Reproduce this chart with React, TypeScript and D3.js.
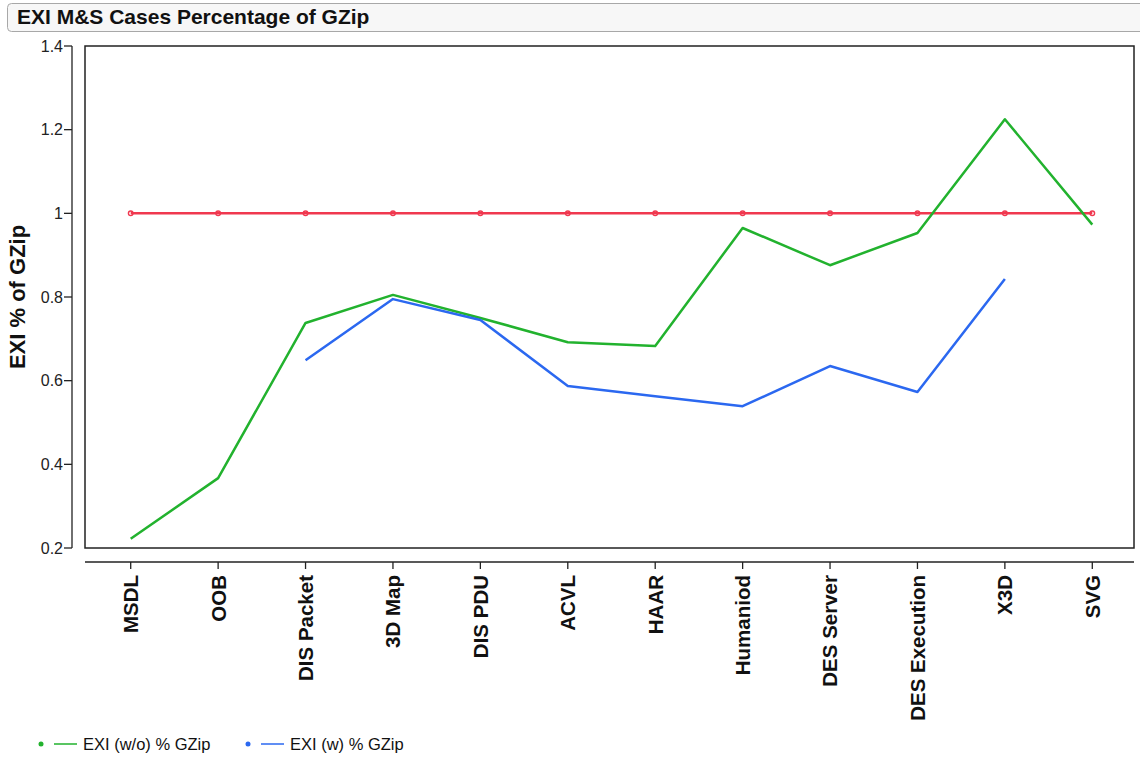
import React from "react";
import * as d3 from "d3";

const categories = ["MSDL", "OOB", "DIS Packet", "3D Map", "DIS PDU", "ACVL", "HAAR", "Humaniod", "DES Server", "DES Execution", "X3D", "SVG"];
const gzipBaseline = [1, 1, 1, 1, 1, 1, 1, 1, 1, 1, 1, 1];
const exiWithout = [0.222, 0.367, 0.738, 0.805, 0.75, 0.692, 0.683, 0.965, 0.876, 0.953, 1.225, 0.973];
const exiWith: (number | null)[] = [null, null, 0.649, 0.795, 0.745, 0.587, 0.563, 0.539, 0.635, 0.573, 0.843, null];
const yTicks = [0.2, 0.4, 0.6, 0.8, 1, 1.2, 1.4];
const legendItems = [
  { label: "EXI (w/o) % GZip", color: "#22b22e" },
  { label: "EXI (w) % GZip", color: "#2b68f0" },
];

const W = 1140, H = 759;
const box = { left: 85, right: 1134, top: 46, bottom: 548 };
const RED = "#f0384f";

export default function App() {
  const x = d3.scalePoint<string>().domain(categories).range([box.left + 2, box.right + 2]).padding(0.5);
  const y = d3.scaleLinear().domain([0.2, 1.4]).range([box.bottom, box.top]);
  const line = d3
    .line<number | null>()
    .defined((d) => d != null)
    .x((_, i) => x(categories[i]) as number)
    .y((d) => y(d as number));

  const font = "Liberation Sans, Arial, sans-serif";
  const xAxisY = 562;
  const yAxisX = 72;

  return (
    <svg width={W} height={H} style={{ position: "absolute", left: 0, top: 0 }} fontFamily={font}>
      <rect x={0} y={0} width={W} height={H} fill="#fff" />
      {/* title */}
      <rect x={7.5} y={3.5} width={W} height={28} rx={4} fill="#f7f7f7" stroke="#a8a8a8" />
      <text x={17} y={24} fontSize={21} fontWeight="bold" fill="#111">EXI M&amp;S Cases Percentage of GZip</text>

      {/* plot box */}
      <rect x={box.left} y={box.top} width={box.right - box.left} height={box.bottom - box.top} fill="none" stroke="#222" strokeWidth={1.5} />

      {/* y axis */}
      <line x1={yAxisX} x2={yAxisX} y1={y(1.4)} y2={y(0.2)} stroke="#222" strokeWidth={1.3} />
      {yTicks.map((t) => (
        <g key={t}>
          <line x1={yAxisX - 8} x2={yAxisX} y1={y(t)} y2={y(t)} stroke="#222" strokeWidth={1.3} />
          <text x={yAxisX - 9} y={y(t)} dy="0.35em" textAnchor="end" fontSize={16} fill="#222">{d3.format("")(t)}</text>
        </g>
      ))}
      <text transform={`translate(25,${(box.top + box.bottom) / 2}) rotate(-90)`} textAnchor="middle" fontSize={22} fontWeight="bold" fill="#111">EXI % of GZip</text>

      {/* x axis */}
      <line x1={box.left} x2={box.right} y1={xAxisY} y2={xAxisY} stroke="#222" strokeWidth={1.3} />
      {categories.map((c) => (
        <g key={c}>
          <line x1={x(c)} x2={x(c)} y1={xAxisY} y2={xAxisY + 7} stroke="#222" strokeWidth={1.3} />
          <text transform={`translate(${(x(c) as number)},575) rotate(-90)`} textAnchor="end" dy="0.36em" fontSize={20.5} fontWeight="bold" fill="#111">{c}</text>
        </g>
      ))}

      {/* series */}
      <path d={line(gzipBaseline) || ""} fill="none" stroke={RED} strokeWidth={2.5} />
      {gzipBaseline.map((v, i) => (
        <circle key={i} cx={x(categories[i])} cy={y(v)} r={2.3} fill="none" stroke={RED} strokeWidth={1.4} />
      ))}
      <path d={line(exiWithout) || ""} fill="none" stroke={legendItems[0].color} strokeWidth={2.5} strokeLinejoin="round" />
      <path d={line(exiWith) || ""} fill="none" stroke={legendItems[1].color} strokeWidth={2.5} strokeLinejoin="round" />

      {/* legend */}
      {legendItems.map((it, i) => {
        const lx = i === 0 ? 41 : 248;
        return (
          <g key={it.label}>
            <circle cx={lx} cy={744} r={2.5} fill={it.color} />
            <line x1={lx + 13} x2={lx + 36} y1={744} y2={744} stroke={it.color} strokeWidth={1.5} />
            <text x={lx + 42} y={744} dy="0.35em" fontSize={16.5} fill="#111">{it.label}</text>
          </g>
        );
      })}
    </svg>
  );
}
